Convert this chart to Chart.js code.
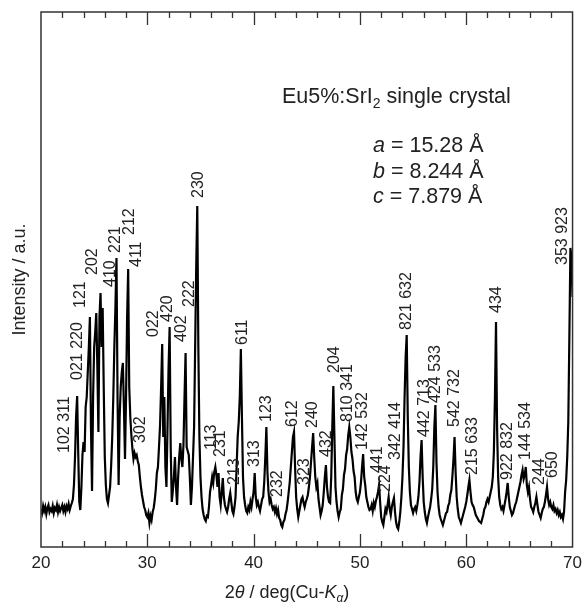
<!DOCTYPE html>
<html>
<head>
<meta charset="utf-8">
<script src="https://cdn.jsdelivr.net/npm/chart.js@4.4.0/dist/chart.umd.min.js"></script>
<style>
  html, body { margin: 0; padding: 0; background: #fff; }
  #wrap { width: 588px; height: 611px; }
</style>
</head>
<body>
<div id="wrap"><canvas id="xrd" width="588" height="611"></canvas></div>
<script>
// 2theta scan, 20.0 -> 70.0 deg, step 0.1 deg
const thetaStart = 20.0;
const thetaStep = 0.1;

// intensity (a.u.), one row per degree
const intensity = [
  38, 34, 41, 36, 40, 33, 39, 42, 35, 38,       // 20
  36, 41, 34, 39, 37, 42, 35, 40, 36, 39,       // 21
  42, 36, 40, 35, 41, 38, 43, 37, 41, 44,       // 22
  48, 62, 90, 130, 151, 95, 45, 37, 60, 92,     // 23
  105, 95, 140, 150, 175, 200, 230, 120, 56, 150, // 24
  200, 215, 234, 180, 115, 230, 254, 200, 239, 160, // 25
  90, 62, 48, 44, 52, 60, 82, 110, 150, 200,    // 26
  240, 289, 150, 62, 130, 160, 175, 184, 140, 88, // 27
  150, 230, 278, 160, 130, 112, 98, 88, 94, 90, // 28
  92, 86, 82, 70, 60, 52, 46, 40, 37, 32,       // 29
  30, 34, 24, 31, 27, 35, 39, 47, 58, 74,       // 30
  80, 100, 122, 160, 203, 110, 150, 80, 60, 120, // 31
  180, 220, 100, 45, 56, 70, 90, 60, 42, 70,    // 32
  90, 104, 88, 80, 102, 150, 194, 100, 96, 92,  // 33
  70, 42, 60, 90, 120, 200, 280, 341, 200, 110, // 34
  70, 50, 38, 32, 28, 26, 31, 30, 40, 55,       // 35
  62, 70, 64, 75, 80, 72, 60, 74, 50, 42,       // 36
  55, 69, 50, 42, 38, 35, 40, 48, 54, 45,       // 37
  36, 33, 40, 50, 80, 110, 125, 150, 198, 130,  // 38
  70, 50, 42, 36, 34, 40, 37, 45, 40, 48,       // 39
  55, 74, 50, 42, 45, 40, 36, 42, 48, 50,       // 40
  65, 90, 120, 75, 55, 45, 48, 42, 38, 40,      // 41
  35, 39, 33, 37, 29, 27, 22, 20, 25, 27,       // 42
  33, 37, 45, 55, 65, 80, 95, 110, 115, 80,     // 43
  50, 38, 30, 36, 42, 48, 50, 44, 40, 45,       // 44
  48, 52, 60, 70, 85, 100, 114, 90, 70, 60,     // 45
  64, 48, 40, 32, 36, 42, 55, 70, 82, 60,       // 46
  50, 45, 44, 70, 120, 161, 110, 60, 45, 36,    // 47
  30, 35, 38, 52, 58, 72, 78, 92, 98, 112,      // 48
  120, 110, 95, 88, 76, 70, 55, 48, 45, 50,     // 49
  55, 65, 80, 93, 70, 62, 50, 45, 40, 37,       // 50
  38, 42, 36, 44, 40, 46, 50, 55, 62, 45,       // 51
  30, 25, 22, 30, 38, 35, 42, 50, 38, 32,       // 52
  40, 45, 49, 35, 25, 20, 18, 25, 35, 50,       // 53
  70, 100, 150, 190, 212, 130, 80, 55, 42, 38,  // 54
  34, 38, 40, 36, 42, 50, 65, 90, 107, 70,      // 55
  45, 35, 28, 24, 30, 35, 40, 48, 58, 80,       // 56
  120, 142, 85, 55, 40, 32, 28, 25, 22, 26,     // 57
  30, 34, 35, 41, 44, 52, 57, 71, 88, 110,      // 58
  75, 50, 38, 30, 27, 24, 28, 32, 36, 40,       // 59
  45, 52, 60, 67, 55, 45, 42, 40, 36, 32,       // 60
  30, 28, 26, 25, 24, 28, 32, 38, 40, 45,       // 61
  48, 45, 50, 55, 60, 70, 95, 150, 225, 120,    // 62
  70, 50, 42, 38, 40, 36, 42, 48, 55, 64,       // 63
  50, 40, 36, 32, 34, 38, 42, 45, 50, 55,       // 64
  60, 65, 72, 77, 68, 72, 80, 62, 55, 60,       // 65
  48, 40, 38, 35, 40, 44, 50, 42, 35, 32,       // 66
  29, 34, 38, 40, 45, 52, 60, 48, 42, 45,       // 67
  40, 38, 42, 36, 38, 34, 37, 32, 35, 30,       // 68
  32, 28, 35, 55, 67, 90, 125, 210, 299, 290,   // 69
  250                                           // 70
];

const xTickLabels = [20, 30, 40, 50, 60, 70];

// hkl labels and where they sit (2theta, intensity at the foot of the text)
const peakLabels = ['102 311', '021 220', '121', '202', '410', '221', '212', '411', '302',
  '022', '420', '402', '222', '230', '113', '231', '213', '611', '313', '123', '232',
  '612', '323', '240', '432', '204', '810 341', '142 532', '441', '224', '342 414',
  '821 632', '442 713', '424 533', '542 732', '215 633', '434', '922 832', '144 534',
  '244', '650', '353 923'];
const labelTheta = [22.24, 23.48, 23.73, 24.82, 26.5, 27.0, 28.37, 29.0, 29.39,
  30.63, 31.88, 33.22, 33.99, 34.83, 36.07, 36.85, 38.25, 38.94, 40.12, 41.2, 42.23,
  43.7, 44.78, 45.56, 46.9, 47.58, 48.8, 50.22, 51.62, 52.4, 53.33,
  54.36, 56.1, 57.12, 58.93, 60.64, 62.82, 63.91, 65.62,
  66.86, 68.1, 69.05];
const labelHeight = [94, 167, 239, 272, 260, 294, 312, 280, 104,
  210, 225, 205, 240, 349, 97, 90, 62, 202, 80, 125, 50,
  120, 62, 119, 90, 174, 125, 97, 74, 55, 87,
  217, 110, 144, 120, 72, 234, 67, 87,
  62, 69, 282];

const FONT = '"Liberation Sans", Arial, sans-serif';

const points = intensity.map((v, i) => ({ x: +(thetaStart + i * thetaStep).toFixed(1), y: v }));

// frame, inward ticks, peak labels and texts
const decorations = {
  id: 'decorations',
  afterDraw(chart) {
    const { ctx, chartArea: a, scales } = chart;
    const sx = scales.x, sy = scales.y;
    ctx.save();

    ctx.strokeStyle = '#333';
    ctx.lineWidth = 1.5;
    ctx.strokeRect(a.left, a.top, a.right - a.left, a.bottom - a.top);

    ctx.lineWidth = 1.3;
    ctx.beginPath();
    for (let t = 22; t < 70; t += 2) {
      const px = Math.round(sx.getPixelForValue(t)) + 0.5;
      const len = xTickLabels.includes(t) ? 13 : 6;
      ctx.moveTo(px, a.bottom); ctx.lineTo(px, a.bottom - len);
      ctx.moveTo(px, a.top); ctx.lineTo(px, a.top + len);
    }
    ctx.stroke();

    // hkl labels, rotated
    ctx.fillStyle = '#222';
    ctx.font = '16px ' + FONT;
    ctx.textAlign = 'left';
    ctx.textBaseline = 'middle';
    peakLabels.forEach((txt, i) => {
      ctx.save();
      ctx.translate(sx.getPixelForValue(labelTheta[i]), sy.getPixelForValue(labelHeight[i]));
      ctx.rotate(-Math.PI / 2);
      ctx.fillText(txt, 0, 0);
      ctx.restore();
    });

    // rich text helper
    function drawRuns(runs, x, y, align) {
      ctx.textBaseline = 'alphabetic';
      ctx.textAlign = 'left';
      let w = 0;
      runs.forEach(r => { ctx.font = r.font; w += ctx.measureText(r.t).width; });
      let cx = align === 'center' ? x - w / 2 : x;
      runs.forEach(r => {
        ctx.font = r.font;
        ctx.fillText(r.t, cx, y + (r.dy || 0));
        cx += ctx.measureText(r.t).width;
      });
    }

    const big = '21.5px ' + FONT, ital = 'italic 21.5px ' + FONT, sub = '14px ' + FONT;
    drawRuns([{ t: 'Eu5%:SrI', font: big }, { t: '2', font: sub, dy: 5 }, { t: ' single crystal', font: big }], 282, 103);
    drawRuns([{ t: 'a', font: ital }, { t: ' = 15.28 Å', font: big }], 373, 152);
    drawRuns([{ t: 'b', font: ital }, { t: ' = 8.244 Å', font: big }], 373, 178);
    drawRuns([{ t: 'c', font: ital }, { t: ' = 7.879 Å', font: big }], 373, 203);

    // axis titles
    const tf = '18px ' + FONT, ti = 'italic 18px ' + FONT, ts = 'italic 12px ' + FONT;
    drawRuns([{ t: '2', font: tf }, { t: 'θ', font: ti }, { t: ' / deg(Cu-', font: tf },
      { t: 'K', font: ti }, { t: 'α', font: ts, dy: 4 }, { t: ')', font: tf }], 287, 598, 'center');

    ctx.save();
    ctx.translate(20, (a.top + a.bottom) / 2);
    ctx.rotate(-Math.PI / 2);
    ctx.font = tf;
    ctx.textAlign = 'center';
    ctx.textBaseline = 'middle';
    ctx.fillText('Intensity / a.u.', 0, 0);
    ctx.restore();

    ctx.restore();
  }
};

new Chart(document.getElementById('xrd'), {
  type: 'line',
  data: {
    datasets: [{
      data: points,
      borderColor: '#000',
      borderWidth: 2.2,
      pointRadius: 0,
      tension: 0,
      fill: false
    }]
  },
  options: {
    responsive: false,
    animation: false,
    parsing: false,
    layout: { padding: { left: 41, right: 11, top: 12, bottom: 0 } },
    plugins: { legend: { display: false }, tooltip: { enabled: false } },
    scales: {
      x: {
        type: 'linear',
        min: 20,
        max: 70,
        grid: { display: false, drawTicks: false },
        border: { display: false },
        ticks: {
          stepSize: 10,
          padding: 6,
          color: '#222',
          font: { size: 17, family: FONT },
          maxRotation: 0
        },
        afterFit(scale) { scale.height = 64; }
      },
      y: {
        display: false,
        min: 0,
        max: 535
      }
    }
  },
  plugins: [decorations]
});
</script>
</body>
</html>
